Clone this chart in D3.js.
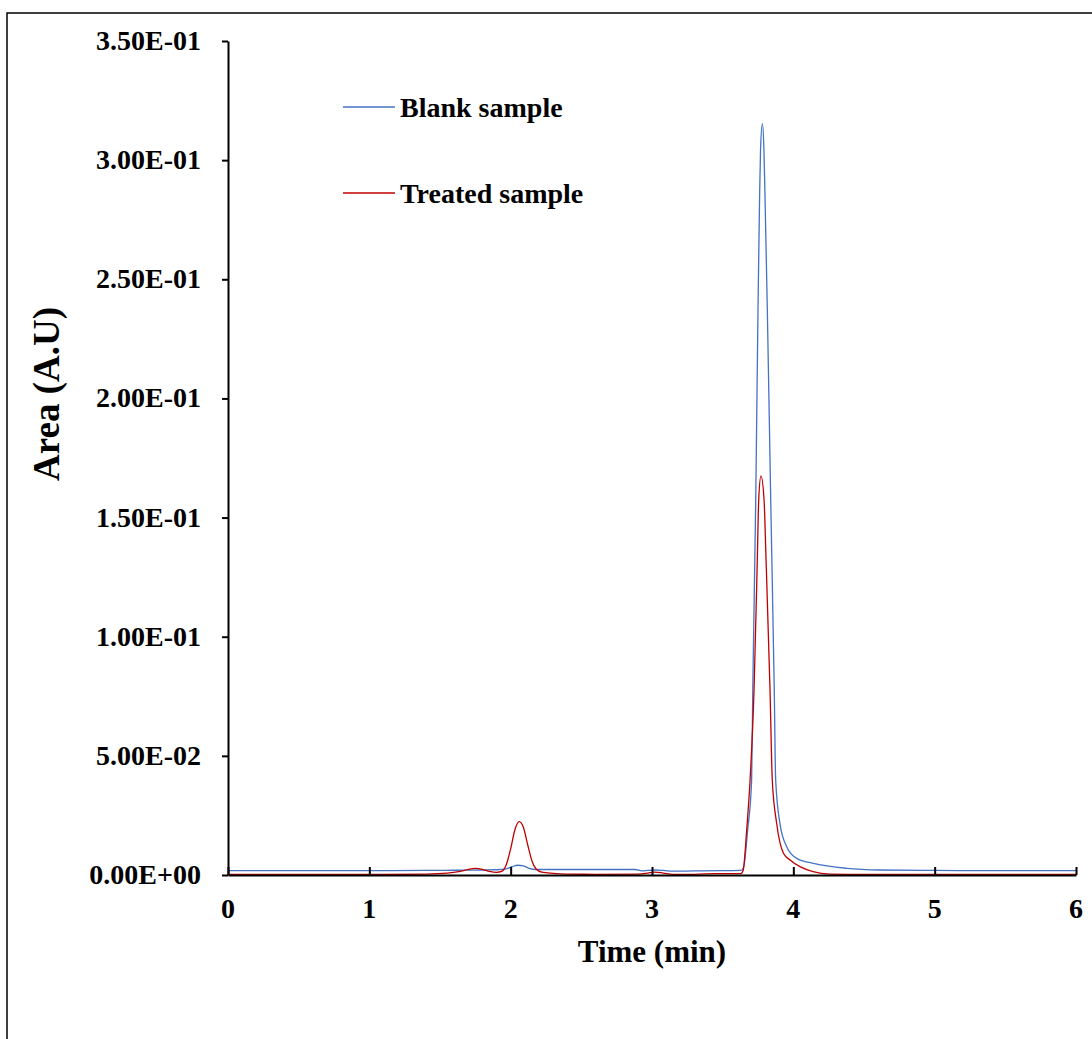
<!DOCTYPE html>
<html>
<head>
<meta charset="utf-8">
<script src="https://cdn.jsdelivr.net/npm/d3@7"></script>
<style>
  html, body { margin: 0; padding: 0; background: #fff; }
  svg { display: block; }
  text { font-family: "Liberation Serif", "Times New Roman", serif; font-weight: bold; fill: #000; }
</style>
</head>
<body>
<svg id="chart" width="1092" height="1039"></svg>
<script>
// ---- data ----
const xTickValues = [0, 1, 2, 3, 4, 5, 6];
const xTickLabels = ["0", "1", "2", "3", "4", "5", "6"];
const yTickValues = [0, 0.05, 0.10, 0.15, 0.20, 0.25, 0.30, 0.35];
const yTickLabels = ["0.00E+00", "5.00E-02", "1.00E-01", "1.50E-01", "2.00E-01", "2.50E-01", "3.00E-01", "3.50E-01"];
const seriesNames = ["Blank sample", "Treated sample"];
const seriesColors = ["#4472C4", "#C00000"];

const blankTime = [0, 0.5, 1.0, 1.4, 1.6, 1.8, 1.9, 1.97, 2.01, 2.05, 2.09, 2.13, 2.18, 2.3, 2.6, 2.88, 2.93, 2.97, 3.02, 3.08, 3.15, 3.3, 3.5, 3.63,
  3.647, 3.677, 3.705, 3.713, 3.734, 3.750, 3.761, 3.768, 3.781, 3.792, 3.800, 3.816, 3.840, 3.865, 3.875, 3.905, 3.953, 4.024, 4.141, 4.378, 4.613, 5.0, 5.5, 6.0];
const blankArea = [0.0018, 0.0018, 0.0018, 0.0019, 0.0020, 0.0021, 0.0022, 0.0026, 0.0035, 0.0041, 0.0038, 0.0028, 0.0023, 0.0023, 0.0023, 0.0023, 0.0017, 0.0019, 0.0021, 0.0019, 0.0016, 0.0017, 0.0018, 0.0019,
  0.0030, 0.0189, 0.0400, 0.0777, 0.1574, 0.2372, 0.2834, 0.3044, 0.3153, 0.3044, 0.2834, 0.2372, 0.1574, 0.0777, 0.0400, 0.0217, 0.0119, 0.0070, 0.0049, 0.0028, 0.0021, 0.0019, 0.0018, 0.0018];

const treatedTime = [0, 0.5, 1.0, 1.4, 1.55, 1.65, 1.70, 1.75, 1.80, 1.85, 1.90, 1.94, 1.97, 2.00, 2.03, 2.06, 2.09, 2.12, 2.15, 2.18, 2.22, 2.3, 2.4, 2.6, 2.9, 2.97, 3.02, 3.08, 3.15, 3.3, 3.45, 3.6, 3.63,
  3.645, 3.670, 3.694, 3.722, 3.745, 3.755, 3.771, 3.793, 3.807, 3.835, 3.851, 3.882, 3.930, 3.977, 4.047, 4.140, 4.260, 4.5, 5.0, 5.5, 6.0];
const treatedArea = [0.0002, 0.0002, 0.0002, 0.0004, 0.0008, 0.0016, 0.0024, 0.0028, 0.0024, 0.0015, 0.0011, 0.0016, 0.0045, 0.0110, 0.0190, 0.0224, 0.0200, 0.0128, 0.0060, 0.0025, 0.0012, 0.0007, 0.0004, 0.0003, 0.0004, 0.0008, 0.0012, 0.0008, 0.0003, 0.0003, 0.0006, 0.0006, 0.0006,
  0.0020, 0.0189, 0.0400, 0.0777, 0.1322, 0.1574, 0.1675, 0.1574, 0.1322, 0.0777, 0.0400, 0.0217, 0.0091, 0.0063, 0.0035, 0.0014, 0.0004, 0.0002, 0.0002, 0.0002, 0.0002];

// ---- drawing ----
const svg = d3.select("#chart");
const x = d3.scaleLinear().domain([0, 6]).range([228, 1076]);
const y = d3.scaleLinear().domain([0, 0.35]).range([875, 41]);

// outer frame
svg.append("rect").attr("x", 7).attr("y", 13).attr("width", 1200).attr("height", 1200)
  .attr("fill", "none").attr("stroke", "#000").attr("stroke-width", 1.5);

const line = d3.line().x(d => x(d[0])).y(d => y(d[1])).curve(d3.curveMonotoneX);
const blankData = blankTime.map((t, i) => [t, blankArea[i]]);
const treatedData = treatedTime.map((t, i) => [t, treatedArea[i]]);

svg.append("path").datum(blankData).attr("d", line)
  .attr("fill", "none").attr("stroke", seriesColors[0]).attr("stroke-width", 1.3);
svg.append("path").datum(treatedData).attr("d", line)
  .attr("fill", "none").attr("stroke", seriesColors[1]).attr("stroke-width", 1.3);

// axes
const xAxis = d3.axisBottom(x).tickValues(xTickValues).tickSizeInner(-8).tickSizeOuter(0).tickFormat("");
const gx = svg.append("g").attr("transform", `translate(0,${y(0)})`).call(xAxis);
gx.select(".domain").attr("stroke", "#000").attr("stroke-width", 2);
gx.selectAll(".tick line").attr("stroke", "#000").attr("stroke-width", 2);

const yAxis = d3.axisLeft(y).tickValues(yTickValues).tickSizeInner(6).tickSizeOuter(0).tickFormat("");
const gy = svg.append("g").attr("transform", `translate(${x(0)},0)`).call(yAxis);
gy.select(".domain").attr("stroke", "#000").attr("stroke-width", 2);
gy.selectAll(".tick line").attr("stroke", "#000").attr("stroke-width", 2);

// tick labels
svg.append("g").selectAll("text").data(xTickValues).join("text")
  .attr("x", d => x(d)).attr("y", 918).attr("text-anchor", "middle")
  .style("font-size", "28px").text((d, i) => xTickLabels[i]);

svg.append("g").selectAll("text").data(yTickValues).join("text")
  .attr("x", 201).attr("y", d => y(d) + 9).attr("text-anchor", "end")
  .style("font-size", "28px").text((d, i) => yTickLabels[i]);

// axis titles
svg.append("text").attr("x", 652).attr("y", 962).attr("text-anchor", "middle")
  .style("font-size", "31px").text("Time (min)");
svg.append("text").attr("transform", "translate(59,394) rotate(-90)").attr("text-anchor", "middle")
  .style("font-size", "37px").text("Area (A.U)");

// legend
const legendY = [107, 193];
seriesNames.forEach((name, i) => {
  svg.append("line").attr("x1", 343).attr("x2", 395).attr("y1", legendY[i]).attr("y2", legendY[i])
    .attr("stroke", seriesColors[i]).attr("stroke-width", 1.3);
  svg.append("text").attr("x", 400).attr("y", legendY[i] + 10)
    .style("font-size", "28px").text(name);
});
</script>
</body>
</html>
